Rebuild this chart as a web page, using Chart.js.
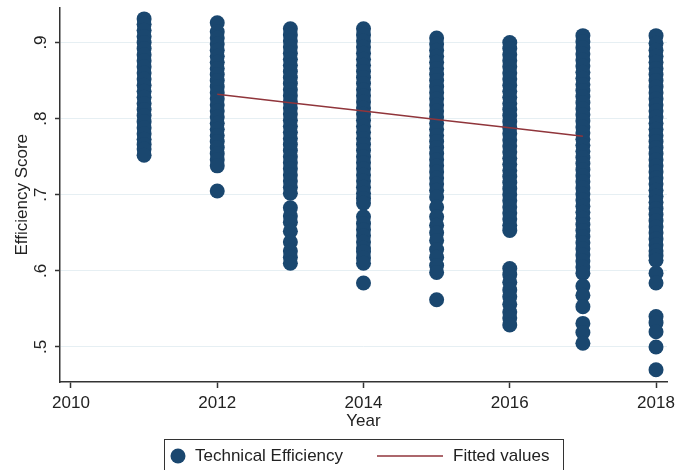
<!DOCTYPE html>
<html>
<head>
<meta charset="utf-8">
<title>Efficiency Score by Year</title>
<script src="https://cdn.jsdelivr.net/npm/chart.js@4.4.1/dist/chart.umd.min.js"></script>
<style>
    html, body { margin: 0; padding: 0; background: #fff; }
    #myChart { display: block; }
</style>
</head>
<body>
<canvas id="myChart" width="690" height="470"></canvas>
<script>
'use strict';

// tick labels
const xTicks = [2010, 2012, 2014, 2016, 2018];
const yTicks = [0.5, 0.6, 0.7, 0.8, 0.9];

// technical efficiency scores per year
const eff2011 = [0.931, 0.924, 0.916, 0.908, 0.900, 0.892, 0.884, 0.876, 0.868, 0.860, 0.852, 0.844,
    0.836, 0.828, 0.820, 0.812, 0.804, 0.796, 0.788, 0.780, 0.773, 0.766, 0.760, 0.752];
const eff2012 = [0.926, 0.914, 0.906, 0.898, 0.890, 0.882, 0.874, 0.866, 0.858, 0.850, 0.842, 0.834,
    0.826, 0.818, 0.810, 0.802, 0.794, 0.786, 0.778, 0.770, 0.762, 0.754, 0.746, 0.738, 0.705];
const eff2013 = [0.918, 0.910, 0.902, 0.894, 0.886, 0.878, 0.870, 0.862, 0.854, 0.846, 0.838, 0.830,
    0.822, 0.814, 0.806, 0.798, 0.790, 0.782, 0.774, 0.766, 0.758, 0.750, 0.742, 0.734, 0.726, 0.718,
    0.710, 0.702, 0.683, 0.672, 0.664, 0.652, 0.638, 0.626, 0.618, 0.610];
const eff2014 = [0.918, 0.910, 0.902, 0.894, 0.886, 0.878, 0.870, 0.862, 0.854, 0.846, 0.838, 0.830,
    0.822, 0.814, 0.806, 0.798, 0.790, 0.782, 0.774, 0.766, 0.758, 0.750, 0.742, 0.734, 0.726, 0.718,
    0.710, 0.702, 0.695, 0.689, 0.671, 0.662, 0.654, 0.646, 0.638, 0.630, 0.625, 0.617, 0.610, 0.584];
const eff2015 = [0.906, 0.898, 0.890, 0.882, 0.874, 0.866, 0.858, 0.850, 0.842, 0.834, 0.826, 0.818,
    0.810, 0.802, 0.794, 0.786, 0.778, 0.770, 0.762, 0.754, 0.746, 0.738, 0.730, 0.722, 0.714, 0.706,
    0.697, 0.684, 0.671, 0.660, 0.650, 0.640, 0.628, 0.618, 0.607, 0.598, 0.562];
const eff2016 = [0.900, 0.892, 0.884, 0.876, 0.868, 0.860, 0.852, 0.844, 0.836, 0.828, 0.820, 0.812,
    0.804, 0.796, 0.788, 0.780, 0.772, 0.764, 0.756, 0.748, 0.740, 0.732, 0.724, 0.716, 0.708, 0.700,
    0.692, 0.684, 0.676, 0.668, 0.660, 0.653, 0.603, 0.595, 0.585, 0.575, 0.566, 0.556, 0.546, 0.538, 0.529];
const eff2017 = [0.909, 0.901, 0.893, 0.885, 0.877, 0.869, 0.861, 0.853, 0.845, 0.837, 0.829, 0.821,
    0.813, 0.805, 0.797, 0.789, 0.781, 0.773, 0.765, 0.757, 0.749, 0.741, 0.733, 0.725, 0.717, 0.709,
    0.701, 0.693, 0.685, 0.677, 0.669, 0.661, 0.653, 0.645, 0.637, 0.629, 0.621, 0.613, 0.605, 0.597,
    0.580, 0.568, 0.553, 0.531, 0.519, 0.505];
const eff2018 = [0.909, 0.899, 0.890, 0.882, 0.874, 0.866, 0.858, 0.850, 0.842, 0.834, 0.826, 0.818,
    0.810, 0.802, 0.794, 0.786, 0.778, 0.770, 0.762, 0.754, 0.746, 0.738, 0.730, 0.722, 0.714, 0.706,
    0.698, 0.690, 0.682, 0.674, 0.666, 0.658, 0.650, 0.642, 0.634, 0.626, 0.620, 0.614, 0.597, 0.584,
    0.540, 0.532, 0.520, 0.500, 0.470];

// linear fit
const fitYears = [2012, 2013, 2014, 2015, 2016, 2017];
const fitValues = [0.832, 0.821, 0.810, 0.799, 0.788, 0.777];

const navy = '#1a476f';
const maroon = '#90353b';
const textFont = { family: '"Liberation Sans", Arial, sans-serif', size: 17 };

const effByYear = [
    [2011, eff2011], [2012, eff2012], [2013, eff2013], [2014, eff2014],
    [2015, eff2015], [2016, eff2016], [2017, eff2017], [2018, eff2018],
];
let scatterData = [];
effByYear.forEach(function (item) {
    item[1].forEach(function (v) {
        scatterData.push({ x: item[0], y: v });
    });
});
const fitData = fitYears.map(function (yr, i) {
    return { x: yr, y: fitValues[i] };
});

// Stata style legend box under the plot
const legendBox = {
    id: 'legendBox',
    afterDraw(chart) {
        const ctx = chart.ctx;
        const cy = 456;
        ctx.save();
        ctx.strokeStyle = '#333';
        ctx.lineWidth = 1;
        ctx.strokeRect(164.5, 439.5, 399, 40);

        ctx.fillStyle = navy;
        ctx.beginPath();
        ctx.arc(178, cy, 7.5, 0, Math.PI * 2);
        ctx.fill();

        ctx.strokeStyle = maroon;
        ctx.lineWidth = 1.5;
        ctx.beginPath();
        ctx.moveTo(377, cy);
        ctx.lineTo(443, cy);
        ctx.stroke();

        ctx.fillStyle = '#222';
        ctx.font = '17px ' + textFont.family;
        ctx.textBaseline = 'middle';
        ctx.textAlign = 'left';
        ctx.fillText('Technical Efficiency', 195, cy);
        ctx.fillText('Fitted values', 453, cy);
        ctx.restore();
    },
};

const config = {
    type: 'scatter',
    data: {
        datasets: [
            {
                label: 'Technical Efficiency',
                data: scatterData,
                backgroundColor: navy,
                borderColor: navy,
                borderWidth: 0,
                pointRadius: 7.5,
                pointHoverRadius: 7.5,
                order: 1,
            },
            {
                type: 'line',
                label: 'Fitted values',
                data: fitData,
                borderColor: maroon,
                borderWidth: 1.5,
                pointRadius: 0,
                fill: false,
                tension: 0,
                order: 0,
            },
        ],
    },
    options: {
        responsive: false,
        animation: false,
        layout: {
            padding: { left: 0, top: 7, right: 23, bottom: 0 },
        },
        scales: {
            x: {
                type: 'linear',
                min: 2009.85,
                max: 2018.15,
                afterBuildTicks: function (scale) {
                    scale.ticks = xTicks.map(function (v) { return { value: v }; });
                },
                afterFit: function (scale) {
                    scale.height = 88;
                    scale.paddingLeft = 0;
                    scale.paddingRight = 0;
                },
                grid: {
                    drawOnChartArea: false,
                    tickLength: 6,
                    tickColor: '#333',
                    tickWidth: 1.5,
                },
                border: { color: '#333', width: 1.5 },
                ticks: {
                    color: '#222',
                    font: textFont,
                    padding: 5,
                    maxRotation: 0,
                    callback: function (v) { return String(v); },
                },
                title: {
                    display: true,
                    text: 'Year',
                    color: '#222',
                    font: textFont,
                    padding: { top: 0, bottom: 38 },
                },
            },
            y: {
                min: 0.454,
                max: 0.946,
                afterBuildTicks: function (scale) {
                    scale.ticks = yTicks.map(function (v) { return { value: v }; });
                },
                afterFit: function (scale) {
                    scale.width = 60;
                    scale.paddingTop = 0;
                    scale.paddingBottom = 0;
                },
                grid: {
                    color: '#e6eff3',
                    lineWidth: 1,
                    tickLength: 5,
                    tickColor: '#333',
                    tickWidth: 1.5,
                },
                border: { color: '#333', width: 1.5 },
                ticks: {
                    color: '#222',
                    font: textFont,
                    padding: 7,
                    minRotation: 90,
                    maxRotation: 90,
                    crossAlign: 'center',
                    callback: function (v) { return v.toFixed(1).replace(/^0/, ''); },
                },
                title: {
                    display: true,
                    text: 'Efficiency Score',
                    color: '#222',
                    font: textFont,
                    padding: { top: 12, bottom: 0 },
                },
            },
        },
        plugins: {
            legend: { display: false },
            tooltip: { enabled: false },
        },
    },
    plugins: [legendBox],
};

const myChart = new Chart(document.getElementById('myChart'), config);
</script>
</body>
</html>
